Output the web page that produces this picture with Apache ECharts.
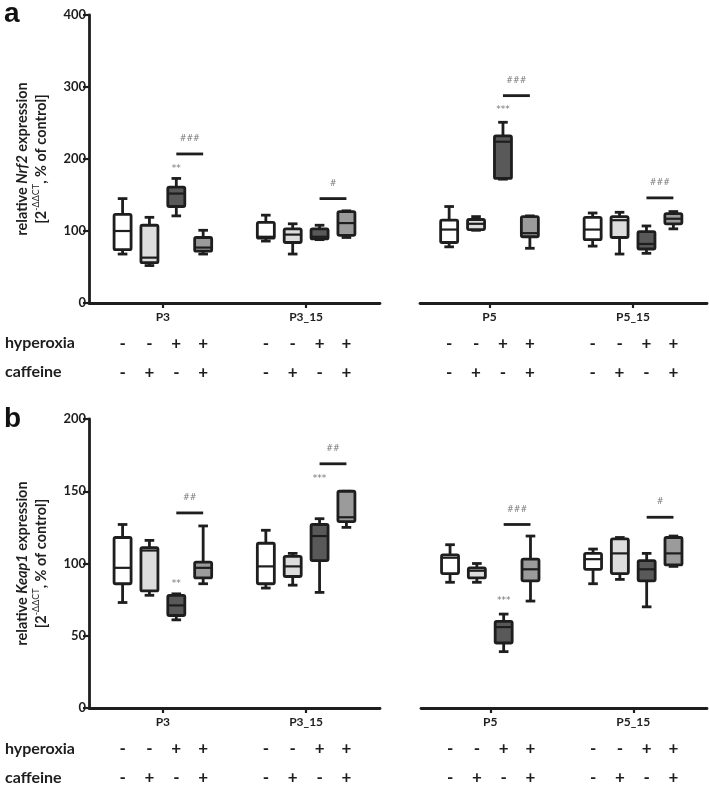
<!DOCTYPE html>
<html><head><meta charset="utf-8">
<script src="https://cdn.jsdelivr.net/npm/echarts@6/dist/echarts.min.js"></script>
<style>html,body{margin:0;padding:0;background:#fff}#c{width:709px;height:789px}</style>
</head><body><div id="c"></div>
<script>
// ---------- data ----------
const groupLabels = ['P3', 'P3_15', 'P5', 'P5_15'];
const hyperoxia = ['-', '-', '+', '+'];
const caffeine = ['-', '+', '-', '+'];

// each box: [min, Q1, median, Q3, max]; order: control, caffeine, hyperoxia, hyperoxia+caffeine
const nrf2P3   = [[68, 74, 100, 123, 145], [52, 56, 63, 108, 119], [121, 134, 152, 161, 173], [68, 72, 77, 91, 101]];
const nrf2P3_15 = [[86, 90, 92, 112, 122], [68, 84, 95, 103, 110], [88, 89, 92, 103, 108], [91, 94, 111, 127, 128]];
const nrf2P5   = [[78, 84, 102, 115, 134], [101, 102, 110, 116, 120], [172, 173, 224, 232, 251], [76, 92, 97, 120, 121]];
const nrf2P5_15 = [[79, 88, 102, 119, 125], [68, 91, 115, 120, 126], [69, 75, 82, 99, 107], [103, 110, 117, 124, 127]];

const keap1P3   = [[73, 86, 97, 118, 127], [78, 81, 109, 111, 116], [61, 64, 71, 78, 79], [86, 90, 97, 101, 126]];
const keap1P3_15 = [[83, 86, 98, 114, 123], [85, 91, 98, 105, 107], [80, 102, 119, 127, 131], [125, 129, 132, 150, 150]];
const keap1P5   = [[87, 93, 104, 106, 113], [87, 90, 95, 97, 100], [39, 45, 56, 60, 65], [74, 88, 96, 103, 119]];
const keap1P5_15 = [[86, 96, 103, 107, 110], [89, 93, 107, 117, 118], [70, 88, 96, 102, 107], [98, 99, 107, 118, 119]];

const nrf2Hash = ['###', '#', '###', '###'];
const nrf2HashY = [207, 145, 288, 146];
const nrf2Star = ['**', '', '***', ''];
const nrf2StarY = [187, null, 268, null];

const keap1Hash = ['##', '##', '###', '#'];
const keap1HashY = [135, 169, 127, 132];
const keap1Star = ['**', '***', '***', ''];
const keap1StarY = [86, 159, 74, null];

const nrf2Ticks = { min: 0, max: 400, interval: 100 };
const keap1Ticks = { min: 0, max: 200, interval: 50 };

// ---------- styling ----------
const FILL = ['#ffffff', '#dddddd', '#595959', '#9b9b9b'];
const INK = '#1e1e1e';
const FONT = 'Lato';

const panels = [
  { boxes: [nrf2P3, nrf2P3_15, nrf2P5, nrf2P5_15], hash: nrf2Hash, hashY: nrf2HashY, star: nrf2Star, starY: nrf2StarY,
    ticks: nrf2Ticks, gene: 'Nrf2' },
  { boxes: [keap1P3, keap1P3_15, keap1P5, keap1P5_15], hash: keap1Hash, hashY: keap1HashY, star: keap1Star, starY: keap1StarY,
    ticks: keap1Ticks, gene: 'Keap1' }
];

const gridDefs = [
  { left: 89, top: 15, width: 291, height: 288, pad: 7, n: 65, groups: [0, 1], panel: 0, showY: true },
  { left: 420, top: 15, width: 287, height: 288, pad: 6, n: 64, groups: [2, 3], panel: 0, showY: false },
  { left: 89, top: 419, width: 291, height: 289, pad: 7, n: 65, groups: [0, 1], panel: 1, showY: true },
  { left: 421, top: 419, width: 286, height: 289, pad: 6, n: 64, groups: [2, 3], panel: 1, showY: false }
];

const grid = [], xAxis = [], yAxis = [], series = [];

gridDefs.forEach((g, gi) => {
  grid.push({ left: g.left, top: g.top, width: g.width, height: g.height, containLabel: false });
  const P = panels[g.panel];
  const mainCats = new Array(g.n).fill('');
  const hypCats = new Array(g.n).fill('');
  const cafCats = new Array(g.n).fill('');
  const boxData = [], hashData = [], hashText = [], starData = [], starText = [];
  g.groups.forEach((grp, k) => {
    const base = g.pad + k * 32;
    mainCats[base + 9] = groupLabels[grp];
    for (let b = 0; b < 4; b++) {
      const c = base + b * 6;
      hypCats[c] = hyperoxia[b];
      cafCats[c] = caffeine[b];
      boxData.push([c].concat(P.boxes[grp][b]).concat([b]));
    }
    hashData.push([base + 12, base + 18, P.hashY[grp]]);
    hashText.push(P.hash[grp]);
    if (P.starY[grp] != null) { starData.push([base + 12, P.starY[grp]]); starText.push(P.star[grp]); }
  });

  const commonCat = { type: 'category', gridIndex: gi, boundaryGap: true, position: 'bottom' };
  xAxis.push(Object.assign({}, commonCat, {
    data: mainCats,
    axisLine: { show: true, lineStyle: { color: INK, width: 2.8 } },
    axisTick: { show: true, alignWithLabel: true, length: 5, lineStyle: { color: INK, width: 2.2 } },
    axisLabel: { interval: 0, margin: 8, fontFamily: FONT, fontSize: 12, fontWeight: 'bold', color: INK }
  }));
  xAxis[xAxis.length - 1].axisTick.interval = (i, v) => v !== '';
  xAxis.push(Object.assign({}, commonCat, {
    data: hypCats, offset: 32,
    axisLine: { show: false }, axisTick: { show: false },
    axisLabel: { interval: 0, margin: 0, fontFamily: FONT, fontSize: 17, fontWeight: 'bold', color: INK }
  }));
  xAxis.push(Object.assign({}, commonCat, {
    data: cafCats, offset: 61,
    axisLine: { show: false }, axisTick: { show: false },
    axisLabel: { interval: 0, margin: 0, fontFamily: FONT, fontSize: 17, fontWeight: 'bold', color: INK }
  }));

  yAxis.push({
    type: 'value', gridIndex: gi, min: P.ticks.min, max: P.ticks.max, interval: P.ticks.interval,
    show: g.showY,
    splitLine: { show: false },
    axisLine: { show: true, lineStyle: { color: INK, width: 2.8 } },
    axisTick: { show: true, length: 6, lineStyle: { color: INK, width: 2.2 } },
    axisLabel: { margin: 3, fontFamily: FONT, fontSize: 13, fontWeight: 'bold', color: INK },
    name: g.showY ? 'relative {it|' + P.gene + '} expression\n[2{sup|-\u0394\u0394CT}, % of control]' : '',
    nameLocation: 'middle', nameGap: 38, nameRotate: 90,
    nameTextStyle: {
      fontFamily: FONT, fontSize: 14.5, fontWeight: 'bold', color: INK, lineHeight: 19, align: 'center',
      rich: {
        it: { fontFamily: FONT, fontSize: 14.5, fontWeight: 'bold', fontStyle: 'italic', color: INK },
        sup: { fontFamily: FONT, fontSize: 9, fontWeight: 'normal', color: INK, verticalAlign: 'top' }
      }
    }
  });

  const xi = gi * 3;
  series.push({
    type: 'custom', xAxisIndex: xi, yAxisIndex: gi, clip: false, silent: true,
    data: boxData,
    renderItem: (params, api) => {
      const x = api.value(0);
      const pMin = api.coord([x, api.value(1)]);
      const pQ1 = api.coord([x, api.value(2)]);
      const pMed = api.coord([x, api.value(3)]);
      const pQ3 = api.coord([x, api.value(4)]);
      const pMax = api.coord([x, api.value(5)]);
      const fill = FILL[api.value(6)];
      const cx = pMed[0], hw = 8.5, cw = 4.8, lw = 2.8;
      const st = { stroke: INK, lineWidth: lw, lineCap: 'butt' };
      return { type: 'group', children: [
        { type: 'line', shape: { x1: cx, y1: pMax[1], x2: cx, y2: pQ3[1] }, style: st },
        { type: 'line', shape: { x1: cx, y1: pQ1[1], x2: cx, y2: pMin[1] }, style: st },
        { type: 'line', shape: { x1: cx - cw, y1: pMax[1], x2: cx + cw, y2: pMax[1] }, style: st },
        { type: 'line', shape: { x1: cx - cw, y1: pMin[1], x2: cx + cw, y2: pMin[1] }, style: st },
        { type: 'rect', shape: { x: cx - hw, y: pQ3[1], width: 2 * hw, height: Math.max(pQ1[1] - pQ3[1], 1), r: 1.5 },
          style: { fill: fill, stroke: INK, lineWidth: lw, lineJoin: 'round' } },
        { type: 'line', shape: { x1: cx - hw, y1: pMed[1], x2: cx + hw, y2: pMed[1] }, style: { stroke: INK, lineWidth: 2.2 } }
      ] };
    }
  });
  series.push({
    type: 'custom', xAxisIndex: xi, yAxisIndex: gi, clip: false, silent: true,
    data: hashData,
    renderItem: (params, api) => {
      const a = api.coord([api.value(0), api.value(2)]);
      const b = api.coord([api.value(1), api.value(2)]);
      return { type: 'group', children: [
        { type: 'line', shape: { x1: a[0], y1: a[1], x2: b[0], y2: b[1] }, style: { stroke: INK, lineWidth: 2.8 } },
        { type: 'text', x: (a[0] + b[0]) / 2, y: a[1] - 15,
          style: { text: hashText[params.dataIndex], fontFamily: 'DejaVu Sans', fontSize: 8, fill: '#777',
            align: 'center', verticalAlign: 'middle' } }
      ] };
    }
  });
  series.push({
    type: 'custom', xAxisIndex: xi, yAxisIndex: gi, clip: false, silent: true,
    data: starData,
    renderItem: (params, api) => {
      const p = api.coord([api.value(0), api.value(1)]);
      return { type: 'text', x: p[0], y: p[1],
        style: { text: starText[params.dataIndex], fontFamily: 'DejaVu Sans', fontSize: 9, fill: '#777',
          align: 'center', verticalAlign: 'middle' } };
    }
  });
});

const graphic = [
  { type: 'text', left: 4, top: 0, style: { text: 'a', fontFamily: 'Liberation Sans', fontWeight: 'bold', fontSize: 28, fill: '#111' } },
  { type: 'text', left: 4, top: 405, style: { text: 'b', fontFamily: 'Liberation Sans', fontWeight: 'bold', fontSize: 28, fill: '#111' } },
  { type: 'text', left: 5, top: 335, style: { text: 'hyperoxia', fontFamily: FONT, fontWeight: 'bold', fontSize: 16, fill: INK } },
  { type: 'text', left: 5, top: 364, style: { text: 'caffeine', fontFamily: FONT, fontWeight: 'bold', fontSize: 16, fill: INK } },
  { type: 'text', left: 5, top: 741, style: { text: 'hyperoxia', fontFamily: FONT, fontWeight: 'bold', fontSize: 16, fill: INK } },
  { type: 'text', left: 5, top: 770, style: { text: 'caffeine', fontFamily: FONT, fontWeight: 'bold', fontSize: 16, fill: INK } }
];

const chart = echarts.init(document.getElementById('c'), null, { renderer: 'canvas' });
chart.setOption({ animation: false, backgroundColor: '#fff', grid, xAxis, yAxis, series, graphic });
</script></body></html>
